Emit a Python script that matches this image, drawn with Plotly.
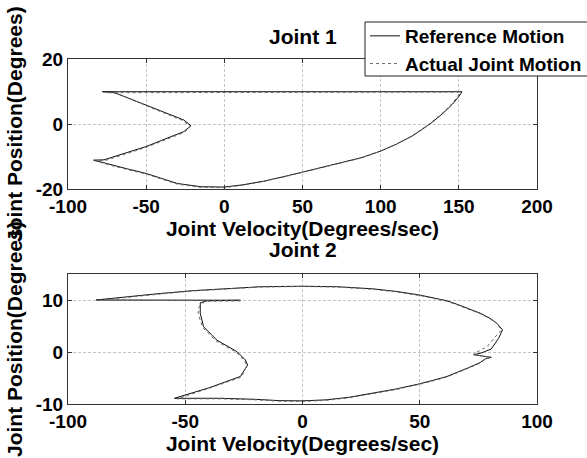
import plotly.graph_objects as go

# ---------------- data ----------------
# Joint 1 : reference motion (phase portrait: velocity vs position)
j1_ref_vel = [-78, -40, 0, 50, 100, 152, 150, 146, 140, 133, 126, 120, 110, 100, 88, 75, 62, 50, 37, 25, 12, 0,
              -15, -30, -41, -50, -62, -72, -83.6,
              -77, -50, -26, -21.3, -26, -45, -64.4, -70.8, -78]
j1_ref_pos = [10, 10, 10, 10, 10, 10, 8.5, 6.2, 3.4, 0.6, -1.8, -3.7, -6.2, -8.3, -10.3, -11.9, -13.4, -14.8, -16.3, -17.6, -18.7, -19.4,
              -19.3, -18.3, -16.6, -15.2, -13.8, -12.6, -11.1,
              -11.0, -6.9, -2.3, -0.5, 1.3, 4.9, 8.5, 9.8, 10]
# Joint 1 : actual joint motion
j1_act_vel = [-74, -40, 0, 50, 100, 151, 149, 145, 139, 132, 125, 119, 109, 99, 87, 74, 61, 49, 36, 24, 11, 0,
              -15, -30, -41, -50, -62, -72, -82.5,
              -76, -49, -25.5, -21.8, -26.5, -45.5, -63.5, -69, -74]
j1_act_pos = [9.7, 9.7, 9.8, 9.8, 9.8, 9.9, 8.3, 6.0, 3.2, 0.4, -2.0, -3.9, -6.4, -8.5, -10.5, -12.1, -13.6, -15.0, -16.5, -17.8, -18.9, -19.6,
              -19.5, -18.5, -16.8, -15.4, -14.0, -12.8, -11.3,
              -11.2, -7.0, -2.5, -0.7, 1.1, 4.8, 8.6, 9.6, 9.7]

# Joint 2 : reference motion
j2_ref_vel = [-88, -75, -60.6, -46.4, -30, -18, 0, 14.8, 30, 40, 50, 56, 61.6, 66, 70.8, 75.8, 80, 82.9, 85.3, 83.6, 80.5, 76,
              73, 80.5, 78, 75.8, 70.8, 66, 61.6, 56, 50, 40, 30.8, 20, 10, 0, -10, -20, -35, -54.6,
              -40, -26.5, -23.4, -24.4, -27.9, -32, -36.5, -42.2, -43.6, -43.6, -40.7, -26.5, -50, -88]
j2_ref_pos = [10.05, 10.7, 11.3, 11.85, 12.3, 12.6, 12.7, 12.6, 12.2, 11.7, 11.0, 10.5, 9.9, 9.2, 8.4, 7.5, 6.5, 5.55, 4.3, 2.65, 0.6, -0.2,
              -0.5, -1.0, -1.3, -2.0, -3.0, -3.9, -4.7, -5.4, -6.1, -7.1, -7.9, -8.7, -9.2, -9.4, -9.35, -9.1, -8.9, -8.9,
              -6.9, -4.7, -2.5, -1.5, 0.08, 1.2, 2.3, 4.9, 7.5, 9.5, 9.9, 10, 10, 10.05]
# Joint 2 : actual joint motion
j2_act_vel = [-87, -75, -60.6, -46.4, -30, -18, 0, 14.8, 30, 40, 50, 56, 61.6, 66, 70.8, 75.8, 80, 82.9, 85.0, 83.6, 78.7, 73,
              75.8, 80.1, 78, 75.8, 70.8, 66, 61.6, 56, 50, 40, 30.8, 20, 10, 0, -10, -20, -35, -53.5,
              -40, -26, -23.8, -24.8, -28.3, -32.5, -37, -42.6, -44.5, -44.2, -41.5, -26, -50, -87]
j2_act_pos = [10.0, 10.6, 11.2, 11.8, 12.25, 12.55, 12.65, 12.55, 12.1, 11.6, 10.9, 10.4, 9.8, 9.1, 8.3, 7.4, 6.4, 5.5, 4.2, 3.7, 1.05, -0.35,
              -0.7, -1.0, -1.4, -2.1, -3.1, -4.0, -4.8, -5.5, -6.2, -7.2, -8.0, -8.8, -9.3, -9.5, -9.45, -9.2, -9.0, -9.0,
              -7.0, -4.8, -2.6, -1.6, 0.0, 1.1, 2.2, 4.8, 7.4, 8.7, 9.8, 9.9, 9.9, 10.0]

j1_vel_ticks = [-100, -50, 0, 50, 100, 150, 200]
j1_pos_ticks = [-20, 0, 20]
j2_vel_ticks = [-100, -50, 0, 50, 100]
j2_pos_ticks = [-10, 0, 10]

series_names = ["Reference Motion", "Actual Joint Motion"]

# ---------------- figure ----------------
FONT = "Liberation Sans, Arial, sans-serif"
W, H = 587, 458
ML, MR, MT, MB = 68, 50, 59, 54
PW = W - ML - MR
PH = H - MT - MB

def ydom(top_px, bot_px):
    return [1 - (bot_px - MT) / PH, 1 - (top_px - MT) / PH]

def px_x(px):
    return (px - ML) / PW

def px_y(py):
    return 1 - (py - MT) / PH

fig = go.Figure()

ref_line = dict(color="#111111", width=1)
act_line = dict(color="#666666", width=1, dash="dot")

fig.add_trace(go.Scatter(x=j1_ref_vel, y=j1_ref_pos, mode="lines", name=series_names[0],
                         line=ref_line, xaxis="x", yaxis="y"))
fig.add_trace(go.Scatter(x=j1_act_vel, y=j1_act_pos, mode="lines", name=series_names[1],
                         line=act_line, xaxis="x", yaxis="y"))
fig.add_trace(go.Scatter(x=j2_ref_vel, y=j2_ref_pos, mode="lines", name=series_names[0],
                         line=ref_line, xaxis="x2", yaxis="y2", showlegend=False))
fig.add_trace(go.Scatter(x=j2_act_vel, y=j2_act_pos, mode="lines", name=series_names[1],
                         line=act_line, xaxis="x2", yaxis="y2", showlegend=False))

tickfont = dict(family=FONT, size=19, color="black", weight="bold")
titlefont = dict(family=FONT, size=21, color="black", weight="bold")

def axis_common(ticks_vals, rng):
    return dict(range=rng, tickvals=ticks_vals, ticktext=[str(t) for t in ticks_vals],
                ticks="inside", ticklen=4, tickcolor="#333333",
                showline=True, linecolor="#333333", linewidth=1, mirror="ticks",
                showgrid=True, gridcolor="#c4c4c4", gridwidth=1, griddash="3px,2px",
                zeroline=False, tickfont=tickfont, automargin=False)

xa1 = axis_common(j1_vel_ticks, [-100, 200])
xa1.update(domain=[0, 1], anchor="y",
           title=dict(text="Joint Velocity(Degrees/sec)", font=titlefont, standoff=0))
ya1 = axis_common(j1_pos_ticks, [-20, 20])
ya1.update(domain=ydom(59.3, 189), anchor="x",
           title=dict(text="Joint Position(Degrees)", font=titlefont, standoff=7))
xa2 = axis_common(j2_vel_ticks, [-100, 100])
xa2.update(domain=[0, 1], anchor="y2",
           title=dict(text="Joint Velocity(Degrees/sec)", font=titlefont, standoff=0))
ya2 = axis_common(j2_pos_ticks, [-10, 15])
ya2.update(domain=ydom(274.3, 404), anchor="x2",
           title=dict(text="Joint Position(Degrees)", font=titlefont, standoff=7))

fig.update_layout(
    width=W, height=H,
    margin=dict(l=ML, r=MR, t=MT, b=MB, autoexpand=False),
    paper_bgcolor="white", plot_bgcolor="white",
    xaxis=xa1, yaxis=ya1, xaxis2=xa2, yaxis2=ya2,
    showlegend=True,
    legend=dict(x=px_x(365), y=px_y(17), xanchor="left", yanchor="top",
                bgcolor="rgba(0,0,0,0)", borderwidth=0,
                font=dict(family=FONT, size=19, color="black", weight="bold"),
                tracegroupgap=0, itemwidth=30),
    shapes=[
        # legend frame (white, opaque, clipped by the page edge like the original)
        dict(type="rect", xref="paper", yref="paper",
             x0=px_x(365), x1=px_x(620), y0=px_y(76), y1=px_y(22),
             line=dict(color="#222222", width=1), fillcolor="white", layer="above"),
    ],
    annotations=[
        dict(text="Joint 1", x=0.5, xref="paper", y=px_y(36), yref="paper",
             xanchor="center", yanchor="middle", showarrow=False, font=titlefont),
        dict(text="Joint 2", x=0.5, xref="paper", y=px_y(250), yref="paper",
             xanchor="center", yanchor="middle", showarrow=False, font=titlefont),
    ],
)

fig.write_html("out.html", config={"displayModeBar": False},
               post_script="document.body.style.margin='0px';")
